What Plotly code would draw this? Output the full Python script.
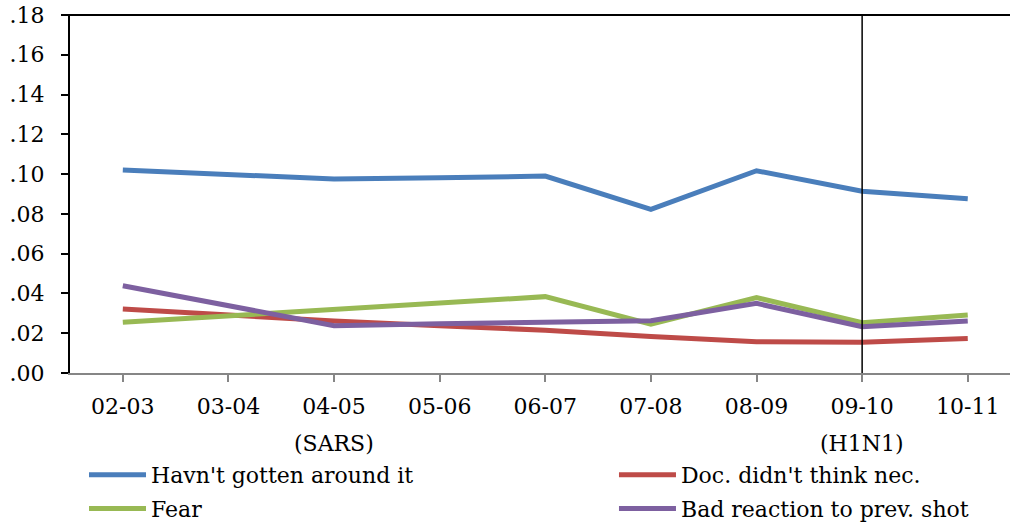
import plotly.graph_objects as go

categories = ["02-03", "03-04", "04-05", "05-06", "06-07", "07-08", "08-09", "09-10", "10-11"]
sub_labels = ["", "", "(SARS)", "", "", "", "", "(H1N1)", ""]
havnt = [0.1021, 0.0998, 0.0975, 0.0982, 0.0990, 0.0823, 0.1017, 0.0914, 0.0876]
doc = [0.0322, 0.0291, 0.0261, 0.0238, 0.0215, 0.0183, 0.0157, 0.0154, 0.0173]
fear = [0.0255, 0.0288, 0.0320, 0.0352, 0.0384, 0.0245, 0.0379, 0.0253, 0.0292]
bad = [0.0439, 0.0338, 0.0238, 0.0248, 0.0258, 0.0263, 0.0350, 0.0233, 0.0261]
y_ticks = [0.00, 0.02, 0.04, 0.06, 0.08, 0.10, 0.12, 0.14, 0.16, 0.18]
y_ticktext = [".00", ".02", ".04", ".06", ".08", ".10", ".12", ".14", ".16", ".18"]
marker_period = "09-10"

series = [
    ("Havn't gotten around it", havnt, "#4A7EBB", "legend"),
    ("Doc. didn't think nec.", doc, "#BE4B48", "legend2"),
    ("Fear", fear, "#98B954", "legend"),
    ("Bad reaction to prev. shot", bad, "#7D60A0", "legend2"),
]

FONT = "DejaVu Serif"
FS = 22
fig = go.Figure()
for name, vals, col, lg in series:
    fig.add_trace(go.Scatter(x=categories, y=vals, name=name, mode="lines",
                             legend=lg, legendgroup=name,
                             line=dict(color=col, width=5)))

xi = categories.index(marker_period)
fig.add_shape(type="line", xref="x", yref="paper", x0=xi, x1=xi, y0=0, y1=1,
              line=dict(color="black", width=1.5))
fig.add_shape(type="line", xref="paper", yref="paper", x0=-0.008, x1=1, y0=1, y1=1,
              line=dict(color="black", width=2))

for c, s in zip(categories, sub_labels):
    if s:
        fig.add_annotation(x=c, y=0, xref="x", yref="y", text=s, showarrow=False,
                           yshift=-70, font=dict(family=FONT, size=FS, color="black"))

leg_common = dict(orientation="v", xanchor="left", yanchor="top", y=-0.2263,
                  font=dict(family=FONT, size=FS, color="black"),
                  itemwidth=57, tracegroupgap=2, bgcolor="rgba(0,0,0,0)")

# Canvas is a bit taller than the 525px window so the bottom legend row
# does not force plotly to shrink the plot area; the page is not scrollable.
fig.update_layout(
    width=1010, height=545,
    margin=dict(l=70, r=0, t=15, b=172),
    paper_bgcolor="white", plot_bgcolor="white",
    font=dict(family=FONT, size=FS, color="black"),
    showlegend=True,
    legend=dict(x=0.0149, **leg_common),
    legend2=dict(x=0.5787, **leg_common),
    xaxis=dict(type="category", range=[-0.5, 8.4], showgrid=False, zeroline=False,
               automargin=False,
               showline=True, linecolor="#868686", linewidth=1.5,
               ticks="outside", ticklen=7, tickcolor="#868686", tickwidth=1.5,
               ticklabelstandoff=6,
               tickfont=dict(family=FONT, size=FS, color="black")),
    yaxis=dict(range=[0, 0.18], tickvals=y_ticks, ticktext=y_ticktext,
               automargin=False,
               showgrid=False, zeroline=False, showline=True, linecolor="black",
               linewidth=2, ticks="outside", ticklen=7, tickcolor="black", tickwidth=2,
               ticklabelstandoff=12,
               tickfont=dict(family=FONT, size=FS, color="black")),
)

fig.write_html("out.html", config={"displayModeBar": False},
               post_script="document.body.style.margin='0px';"
                           "document.body.style.overflow='hidden';")
